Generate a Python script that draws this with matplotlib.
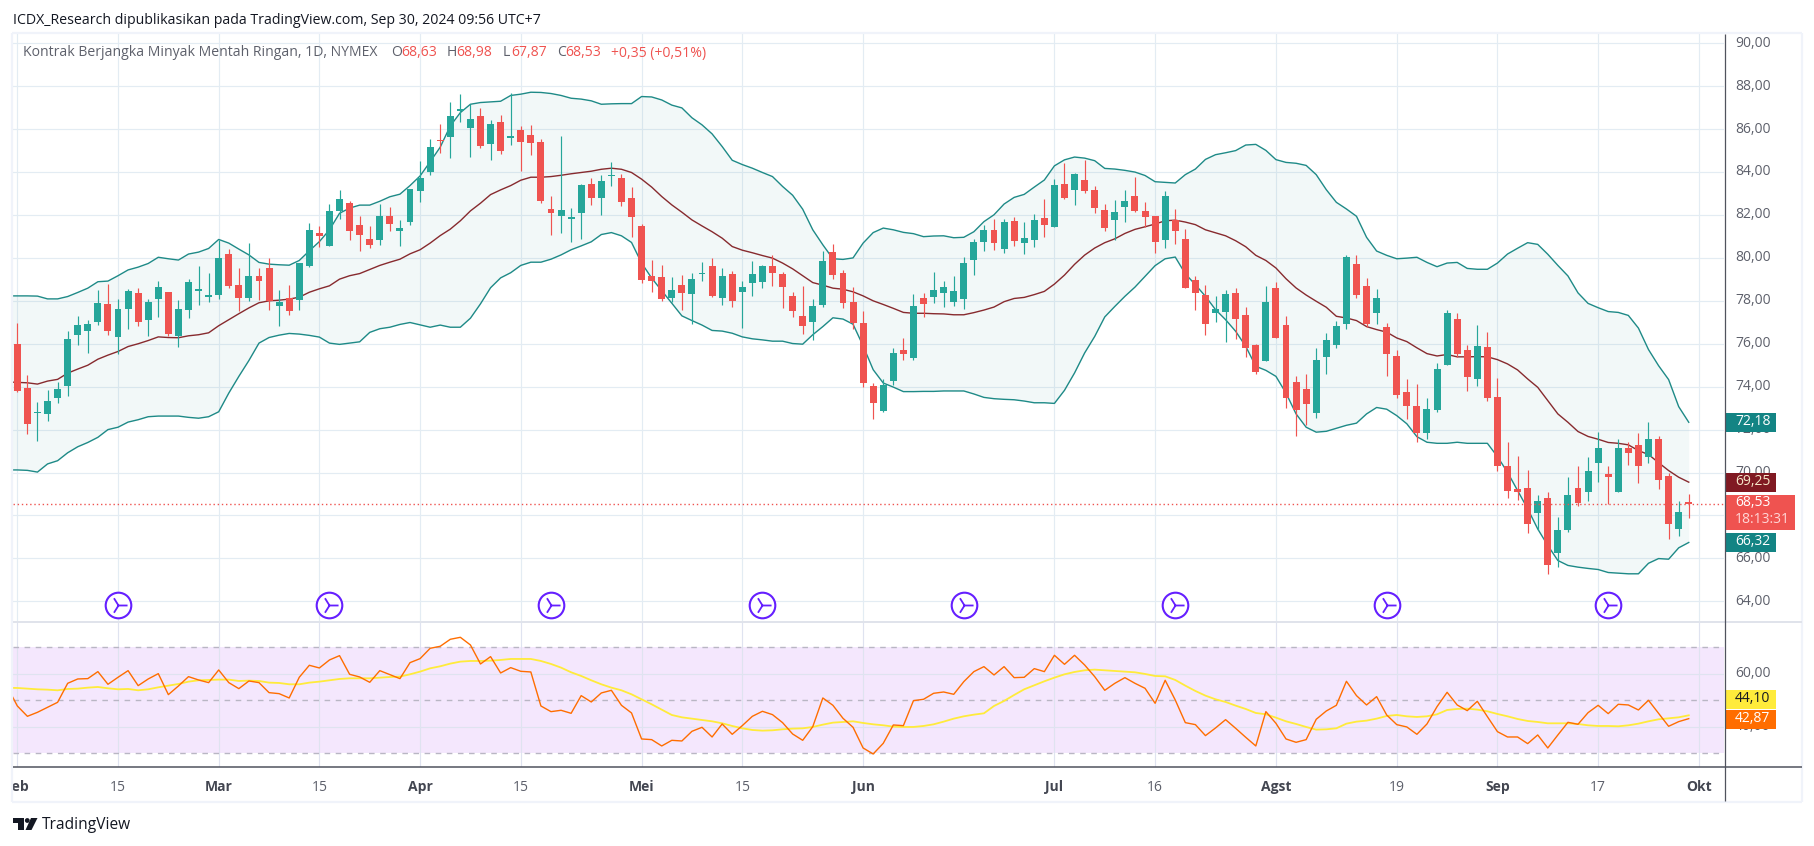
import numpy as np
from matplotlib import pyplot as plt
from matplotlib.patches import Rectangle, Polygon, Circle
from matplotlib.transforms import ScaledTranslation

W, H = 1814, 846

# daily candles, index 0 = 1 Feb 2024
opens = [76.00, 73.95, 72.78, 72.74, 73.48, 74.04, 76.42, 76.60, 77.02, 77.86, 76.32, 77.63, 78.37, 77.12, 78.09, 78.42, 76.37, 77.58, 78.47, 78.19,
         78.28, 80.19, 78.75, 78.14, 79.17, 79.54, 77.77, 78.14, 78.05, 79.63, 81.17, 80.56, 82.19, 82.57, 81.54, 80.89, 80.84, 81.96, 81.26, 81.68,
         83.13, 84.01, 85.50, 85.64, 86.85, 86.06, 86.62, 85.31, 86.34, 85.59, 85.97, 85.73, 85.41, 82.29, 81.96, 81.82, 82.10, 83.45, 82.80, 83.82,
         83.73, 82.80, 81.49, 79.17, 79.12, 78.14, 78.75, 78.33, 79.26, 79.63, 78.14, 79.26, 78.42, 78.84, 78.89, 79.63, 79.26, 78.23, 77.30, 77.02,
         77.81, 80.28, 79.31, 77.95, 76.98, 74.04, 72.88, 74.28, 75.72, 75.35, 78.15, 78.19, 78.38, 77.96, 78.10, 79.92, 80.75, 81.31, 80.43, 81.73,
         80.71, 80.85, 81.87, 81.45, 83.46, 83.18, 83.64, 83.18, 82.24, 81.78, 82.38, 82.90, 82.20, 81.97, 80.85, 81.78, 80.89, 78.98, 78.29, 77.45,
         77.49, 78.38, 77.35, 75.96, 75.21, 78.61, 76.89, 74.23, 73.91, 72.79, 75.40, 75.96, 76.94, 79.73, 78.71, 77.45, 76.80, 75.45, 73.73, 73.12,
         71.86, 72.89, 75.03, 77.17, 75.73, 74.38, 75.87, 73.54, 70.28, 69.25, 69.30, 68.09, 68.79, 66.23, 67.34, 69.30, 69.11, 70.46, 69.95, 69.11,
         71.16, 71.30, 70.70, 71.54, 69.86, 67.39, 68.63]
closes = [73.81, 72.27, 72.81, 73.34, 73.90, 76.23, 76.88, 76.93, 77.91, 76.60, 77.63, 78.47, 77.02, 77.95, 78.65, 76.46, 77.63, 78.89, 78.56, 78.28,
          80.00, 78.70, 78.14, 79.17, 78.93, 78.00, 77.95, 77.53, 79.77, 81.31, 81.03, 82.19, 82.75, 81.26, 81.08, 80.61, 81.96, 81.59, 81.40, 83.22,
          83.73, 85.17, 85.45, 86.62, 86.94, 86.48, 85.22, 86.25, 84.99, 85.69, 85.41, 85.36, 82.66, 82.10, 82.24, 81.91, 83.40, 82.80, 83.59, 83.87,
          82.61, 81.91, 78.98, 78.93, 78.09, 78.51, 78.37, 79.03, 79.31, 78.23, 79.17, 78.00, 78.65, 79.26, 79.63, 79.31, 78.65, 77.53, 76.84, 77.77,
          79.86, 79.21, 77.91, 76.98, 74.18, 73.25, 74.09, 75.58, 75.54, 77.77, 77.87, 78.52, 78.66, 78.47, 79.78, 80.75, 81.31, 80.71, 81.69, 80.80,
          80.94, 81.78, 81.55, 83.41, 82.80, 83.92, 83.13, 82.34, 81.41, 82.15, 82.66, 82.20, 81.92, 80.75, 82.90, 81.27, 78.61, 78.38, 76.93, 77.63,
          78.33, 77.17, 75.82, 74.70, 77.96, 76.28, 73.49, 72.93, 73.21, 75.22, 76.19, 76.85, 80.06, 78.29, 76.94, 78.15, 75.50, 73.59, 73.12, 71.86,
          72.98, 74.84, 77.41, 75.50, 74.47, 75.91, 73.49, 70.28, 69.16, 69.11, 67.62, 68.69, 65.71, 67.30, 68.97, 68.60, 70.09, 71.16, 69.81, 71.16,
          70.93, 70.32, 71.54, 69.63, 67.62, 68.18, 68.53]
highs = [76.96, 74.55, 73.30, 73.85, 74.23, 76.60, 77.30, 77.12, 78.51, 78.79, 78.09, 78.56, 78.61, 78.09, 78.93, 78.42, 78.05, 79.03, 79.63, 79.31,
         80.84, 80.42, 79.54, 80.70, 79.54, 80.00, 78.51, 78.75, 79.77, 81.63, 81.49, 82.52, 83.17, 82.66, 81.96, 81.49, 82.52, 82.38, 81.77, 83.22,
         84.52, 85.55, 86.25, 87.27, 87.64, 87.18, 86.99, 86.43, 86.67, 87.69, 86.15, 86.20, 85.55, 82.89, 85.69, 82.33, 83.45, 83.73, 83.87, 84.48,
         83.92, 83.31, 81.59, 79.91, 79.68, 79.12, 79.21, 79.31, 79.82, 80.00, 79.54, 79.40, 78.93, 79.86, 79.68, 80.14, 79.35, 78.42, 78.70, 78.09,
         80.33, 80.66, 79.44, 78.65, 77.53, 74.18, 74.37, 75.82, 76.28, 78.33, 78.38, 79.36, 78.94, 79.17, 80.06, 80.89, 81.55, 81.83, 81.83, 81.92,
         81.69, 82.06, 82.76, 83.69, 84.43, 83.97, 84.57, 83.36, 82.52, 82.71, 83.18, 83.78, 82.62, 81.97, 83.13, 82.29, 81.36, 79.17, 78.75, 78.24,
         78.52, 78.61, 77.73, 76.00, 78.70, 78.89, 77.31, 74.51, 74.61, 75.82, 76.52, 77.08, 80.15, 80.15, 79.08, 78.57, 76.99, 75.73, 74.38, 74.14,
         73.49, 75.08, 77.59, 77.45, 75.96, 76.89, 76.57, 74.42, 71.44, 70.79, 70.14, 68.97, 69.07, 67.95, 69.81, 70.32, 70.70, 71.91, 70.28, 71.54,
         71.44, 71.82, 72.37, 71.72, 70.00, 68.65, 68.98]
lows = [73.73, 71.81, 71.45, 72.41, 73.25, 73.58, 75.95, 75.58, 76.88, 76.42, 75.53, 76.70, 76.84, 76.37, 77.26, 76.37, 75.86, 77.21, 77.81, 77.95,
        78.09, 78.61, 77.53, 78.00, 78.05, 77.58, 76.84, 77.35, 77.58, 79.58, 80.52, 80.56, 81.82, 80.84, 80.33, 80.47, 80.61, 81.26, 80.56, 81.54,
        82.61, 83.87, 84.90, 84.66, 86.34, 84.71, 85.13, 84.57, 84.85, 85.27, 84.06, 84.80, 82.57, 81.08, 81.17, 80.75, 80.89, 82.47, 82.01, 83.36,
        82.43, 80.98, 78.84, 78.42, 78.00, 77.95, 77.58, 76.93, 78.93, 78.19, 77.81, 77.72, 76.74, 78.23, 78.61, 78.70, 77.67, 77.26, 76.46, 76.18,
        77.72, 79.03, 77.67, 76.70, 73.99, 72.50, 72.84, 74.09, 75.26, 75.26, 77.26, 77.91, 77.73, 77.77, 77.63, 79.22, 80.34, 80.38, 80.24, 80.57,
        80.20, 80.52, 80.99, 81.45, 82.76, 82.48, 83.04, 82.11, 81.27, 80.85, 81.69, 82.15, 81.45, 80.24, 80.47, 80.66, 78.61, 77.59, 76.42, 77.03,
        76.10, 76.24, 75.40, 74.61, 75.21, 76.28, 73.02, 71.72, 72.21, 72.56, 74.61, 75.82, 76.71, 78.15, 76.80, 76.94, 74.52, 73.45, 72.51, 71.44,
        71.58, 72.84, 75.03, 75.40, 73.82, 74.05, 73.35, 70.09, 68.83, 68.74, 67.16, 67.30, 65.25, 65.62, 67.25, 68.46, 68.65, 69.58, 68.55, 69.11,
        70.37, 69.49, 70.42, 69.21, 66.92, 67.06, 67.87]

# indicators carry one extra value in front, the bar before the left edge
bb_upper = [78.23, 78.23, 78.23, 78.22, 78.09, 78.09, 78.20, 78.39, 78.59, 78.89, 78.92, 79.17, 79.44, 79.57, 79.74, 80.03, 79.96, 79.90, 80.18, 80.27, 80.44,
            80.86, 80.69, 80.41, 80.14, 79.79, 79.71, 79.68, 79.66, 79.88, 80.33, 80.76, 81.31, 82.08, 82.32, 82.46, 82.46, 82.64, 82.85, 82.97, 83.37,
            83.82, 84.48, 85.16, 86.15, 86.77, 87.16, 87.24, 87.27, 87.30, 87.57, 87.63, 87.72, 87.71, 87.66, 87.57, 87.44, 87.40, 87.32, 87.16, 87.18,
            87.19, 87.19, 87.52, 87.50, 87.36, 87.12, 86.99, 86.53, 86.20, 85.78, 85.19, 84.55, 84.35, 84.18, 83.98, 83.79, 83.33, 82.92, 82.27, 81.31,
            80.61, 79.96, 79.93, 80.00, 80.69, 81.18, 81.39, 81.31, 81.19, 81.13, 80.99, 81.02, 81.03, 80.94, 80.96, 81.22, 81.69, 82.01, 82.51, 82.82,
            82.96, 83.30, 83.63, 84.29, 84.57, 84.70, 84.65, 84.53, 84.17, 84.14, 84.08, 84.00, 83.84, 83.55, 83.52, 83.49, 83.88, 84.14, 84.59, 84.81,
            84.90, 85.00, 85.26, 85.29, 85.01, 84.58, 84.45, 84.41, 84.31, 83.88, 83.18, 82.59, 82.28, 81.94, 80.96, 80.32, 80.12, 79.96, 79.99, 80.03,
            79.79, 79.59, 79.76, 79.79, 79.51, 79.47, 79.47, 79.76, 80.18, 80.45, 80.71, 80.63, 80.17, 79.65, 79.16, 78.37, 77.88, 77.68, 77.50, 77.46,
            77.32, 76.73, 75.73, 74.98, 74.33, 73.07, 72.34]
bb_basis = [74.22, 74.20, 74.18, 74.12, 74.26, 74.34, 74.63, 74.82, 75.00, 75.28, 75.47, 75.64, 75.87, 76.00, 76.15, 76.32, 76.29, 76.28, 76.37, 76.42, 76.51,
            76.84, 77.12, 77.40, 77.67, 77.91, 78.00, 78.03, 78.08, 78.17, 78.40, 78.56, 78.70, 79.01, 79.17, 79.27, 79.46, 79.65, 79.80, 79.94, 80.19,
            80.38, 80.69, 81.04, 81.34, 81.73, 82.19, 82.55, 82.95, 83.17, 83.37, 83.62, 83.76, 83.76, 83.79, 83.85, 83.92, 83.98, 84.04, 84.13, 84.18,
            84.13, 83.98, 83.67, 83.30, 82.86, 82.47, 82.13, 81.77, 81.49, 81.22, 80.92, 80.53, 80.36, 80.24, 80.11, 79.99, 79.76, 79.49, 79.17, 78.85,
            78.73, 78.59, 78.54, 78.42, 78.23, 78.00, 77.83, 77.65, 77.46, 77.42, 77.42, 77.40, 77.39, 77.35, 77.35, 77.45, 77.57, 77.71, 77.96, 78.11,
            78.16, 78.29, 78.44, 78.78, 79.20, 79.70, 80.13, 80.46, 80.71, 80.89, 81.14, 81.33, 81.45, 81.58, 81.73, 81.76, 81.67, 81.55, 81.31, 81.17,
            81.03, 80.80, 80.52, 80.12, 79.88, 79.53, 79.03, 78.60, 78.27, 77.98, 77.70, 77.28, 77.20, 77.08, 76.80, 76.66, 76.54, 76.27, 76.10, 75.81,
            75.54, 75.43, 75.50, 75.39, 75.39, 75.40, 75.39, 75.26, 75.06, 74.78, 74.36, 73.97, 73.35, 72.73, 72.34, 71.91, 71.68, 71.55, 71.40, 71.36,
            71.29, 71.02, 70.84, 70.46, 70.09, 69.78, 69.55]
bb_lower = [70.12, 70.12, 70.10, 70.02, 70.40, 70.55, 70.92, 71.20, 71.40, 71.64, 72.00, 72.11, 72.35, 72.46, 72.60, 72.63, 72.63, 72.63, 72.57, 72.53, 72.60,
            72.83, 73.70, 74.48, 75.22, 76.03, 76.29, 76.40, 76.48, 76.45, 76.39, 76.31, 76.03, 75.97, 76.03, 76.09, 76.53, 76.70, 76.77, 76.90, 76.99,
            76.88, 76.77, 76.87, 76.77, 76.77, 77.19, 77.86, 78.61, 79.07, 79.31, 79.65, 79.80, 79.80, 79.94, 80.14, 80.38, 80.56, 80.75, 81.09, 81.18,
            81.03, 80.72, 79.76, 79.06, 78.47, 77.89, 77.30, 77.08, 76.87, 76.62, 76.59, 76.49, 76.32, 76.23, 76.18, 76.12, 76.12, 76.01, 75.98, 76.42,
            76.80, 77.21, 77.15, 76.91, 75.90, 74.79, 74.17, 73.98, 73.77, 73.77, 73.78, 73.78, 73.80, 73.80, 73.80, 73.66, 73.50, 73.44, 73.41, 73.39,
            73.33, 73.25, 73.25, 73.22, 73.83, 74.64, 75.57, 76.34, 77.25, 77.74, 78.21, 78.64, 79.14, 79.64, 79.96, 80.04, 79.26, 78.75, 78.21, 77.59,
            77.12, 76.58, 75.88, 74.95, 74.76, 74.48, 73.70, 72.73, 72.11, 71.88, 71.92, 72.06, 72.20, 72.30, 72.73, 73.03, 72.95, 72.65, 72.27, 71.67,
            71.41, 71.36, 71.36, 71.41, 71.36, 71.36, 71.36, 70.74, 70.01, 69.16, 68.31, 67.37, 66.60, 65.90, 65.67, 65.59, 65.53, 65.48, 65.34, 65.31,
            65.28, 65.28, 65.77, 65.99, 65.96, 66.49, 66.74]

rsi = [55.10, 47.86, 43.96, 45.47, 47.36, 49.24, 56.41, 58.05, 58.18, 60.82, 56.04, 58.68, 61.19, 55.53, 58.05, 60.06, 52.14, 55.41, 58.93, 57.67, 56.67,
       61.45, 56.67, 54.40, 57.29, 56.67, 52.89, 52.51, 50.88, 58.68, 63.21, 62.20, 65.22, 66.85, 59.81, 58.80, 56.79, 61.19, 59.68, 58.18, 64.21,
       65.72, 69.62, 70.38, 73.02, 73.77, 70.88, 63.71, 66.48, 60.31, 62.33, 60.94, 60.69, 47.86, 45.72, 46.23, 45.09, 51.76, 49.37, 52.77, 53.77,
       48.11, 45.22, 35.41, 35.16, 32.77, 34.90, 34.65, 38.30, 39.81, 36.16, 41.07, 37.17, 40.44, 43.96, 45.85, 44.59, 41.57, 37.29, 34.90, 40.06,
       50.88, 48.11, 43.21, 39.81, 32.01, 29.75, 33.77, 40.69, 40.44, 49.87, 50.38, 52.64, 53.14, 52.26, 57.04, 60.82, 62.70, 59.56, 62.70, 58.55,
       58.68, 61.95, 60.82, 66.98, 63.58, 66.98, 63.33, 58.93, 53.77, 56.41, 58.55, 56.41, 54.53, 48.87, 57.55, 50.12, 41.57, 40.82, 36.67, 39.56,
       42.70, 39.43, 36.04, 32.77, 45.72, 41.32, 35.41, 34.15, 35.16, 42.83, 45.97, 48.11, 57.17, 51.76, 48.24, 51.38, 44.46, 40.82, 39.94, 37.17,
       41.07, 47.61, 53.02, 48.24, 46.10, 49.62, 43.83, 38.17, 36.16, 36.16, 33.65, 36.92, 32.01, 36.92, 41.70, 40.94, 45.34, 48.11, 44.97, 48.49,
       48.24, 46.35, 50.00, 45.09, 40.19, 41.95, 43.08]
rsi_ma = [54.70, 54.65, 54.40, 54.15, 54.02, 53.77, 54.28, 54.40, 54.78, 55.03, 54.53, 54.15, 54.28, 53.77, 54.15, 54.90, 55.53, 56.16, 57.04, 57.55, 57.67,
          57.80, 57.80, 57.29, 57.42, 57.29, 56.67, 56.54, 56.04, 56.04, 56.67, 57.04, 57.55, 58.05, 58.30, 58.30, 58.30, 58.55, 58.80, 58.93, 59.81,
          60.82, 62.07, 62.83, 63.84, 64.59, 64.84, 64.84, 64.97, 65.22, 65.60, 65.60, 65.60, 64.84, 63.71, 62.33, 60.57, 59.18, 57.55, 56.04, 54.78,
          53.77, 52.26, 50.38, 48.49, 46.48, 44.46, 43.58, 43.08, 42.58, 42.07, 41.32, 40.31, 39.43, 38.80, 38.55, 38.68, 39.06, 39.31, 39.43, 39.94,
          40.82, 41.57, 41.82, 42.07, 41.45, 40.94, 40.57, 40.06, 39.94, 39.94, 40.31, 40.94, 41.95, 43.08, 43.96, 44.59, 45.09, 47.86, 49.75, 52.01,
          54.15, 55.66, 57.17, 58.55, 59.81, 60.69, 61.32, 61.57, 61.32, 61.07, 60.82, 60.56, 59.94, 59.18, 59.05, 57.67, 55.53, 53.52, 51.76, 50.38,
          49.37, 47.99, 46.73, 45.22, 44.72, 43.46, 42.07, 41.07, 39.94, 38.93, 39.05, 39.43, 41.19, 41.95, 42.33, 43.08, 44.09, 44.46, 43.96, 43.71,
          43.96, 44.72, 46.35, 46.73, 46.85, 46.48, 45.85, 44.84, 43.96, 42.95, 42.20, 41.82, 41.32, 41.32, 41.32, 41.07, 40.56, 40.31, 40.31, 40.19,
          40.56, 41.19, 42.07, 42.83, 43.21, 43.58, 44.34]

# bars that carry the purple event icon
event_bars = [10, 31, 53, 74, 94, 115, 136, 158]
event_price = 63.83

date_ticks = [0, 10, 20, 30, 40, 50, 62, 72, 84, 103, 113, 125, 137, 147, 157, 167]
date_labels = ['Feb', '15', 'Mar', '15', 'Apr', '15', 'Mei', '15', 'Jun', 'Jul', '16', 'Agst', '19', 'Sep', '17', 'Okt']
month_labels = ['Feb', 'Mar', 'Apr', 'Mei', 'Jun', 'Jul', 'Agst', 'Sep', 'Okt']
price_ticks = list(range(64, 92, 2))
rsi_ticks = [40, 60]
last_close = 68.53

UP, DOWN = '#26a69a', '#ef5350'
BAND, BASIS = '#1e8a87', '#872a2e'
GRID = '#e3ecf3'
TEXT, MUTED = '#131722', '#5d606b'
FONT = 'Open Sans'

plt.rcParams['font.family'] = [FONT, 'DejaVu Sans']


def px_axes(fig, left, top, right, bottom):
    return fig.add_axes([left / W, 1 - bottom / H, (right - left) / W, (bottom - top) / H])


def fmt(value):
    return f'{value:.2f}'.replace('.', ',')


fig = plt.figure(figsize=(W / 100, H / 100), dpi=100, facecolor='white')
ax = px_axes(fig, 13, 33.5, 1724, 622.3)
ax_rsi = px_axes(fig, 13, 622.3, 1724, 767.3)

bars = np.arange(len(closes))
line_x = np.arange(len(bb_upper)) - 1
o, c, h, l = map(np.array, (opens, closes, highs, lows))
colors = [UP if b >= a else DOWN for a, b in zip(o, c)]

ax.fill_between(line_x, bb_lower, bb_upper, color='#138484', alpha=0.05, lw=0, zorder=1)
ax.plot(line_x, bb_upper, color=BAND, lw=1.0, zorder=2)
ax.plot(line_x, bb_lower, color=BAND, lw=1.0, zorder=2)
ax.plot(line_x, bb_basis, color=BASIS, lw=1.0, zorder=2)
ax.vlines(bars, l, h, colors=colors, lw=0.85, zorder=3)
ax.bar(bars, np.maximum(np.abs(c - o), 0.05), bottom=np.minimum(o, c), width=0.69, color=colors, lw=0, zorder=4)
ax.axhline(last_close, color=DOWN, lw=1, dashes=(1, 2), zorder=5)

ax.scatter(event_bars, [event_price] * len(event_bars), s=340, facecolor='white', edgecolor='#651fff', lw=1.5, zorder=6)
ax.scatter(event_bars, [event_price] * len(event_bars), s=170, marker='4', color='#651fff', lw=1.3, zorder=7)

ax.set_xlim(-0.43, 169.5)
ax.set_ylim(63.02, 90.457)
ax.set_yticks(price_ticks)
ax.set_yticklabels([fmt(v) for v in price_ticks])
ax.set_xticks(date_ticks)
ax.tick_params(axis='x', length=0, labelbottom=False)
ax.yaxis.tick_right()
ax.tick_params(axis='y', length=0, pad=8, labelsize=10, labelcolor=MUTED)
ax.grid(True, color=GRID, lw=0.85)
ax.set_axisbelow(True)
for s in ax.spines.values():
    s.set_visible(False)

ax_rsi.axhspan(30, 70, color='#f4e7fd', lw=0, zorder=0)
for level in (30, 50, 70):
    ax_rsi.axhline(level, color='#b9b6c4', lw=1, dashes=(4, 4), zorder=1)
ax_rsi.plot(line_x, rsi_ma, color='#ffeb3b', lw=1.3, zorder=2)
ax_rsi.plot(line_x, rsi, color='#ff6d00', lw=1.0, zorder=3)
ax_rsi.set_xlim(ax.get_xlim())
ax_rsi.set_ylim(24.72, 79.43)
ax_rsi.set_yticks(rsi_ticks)
ax_rsi.set_yticklabels([fmt(v) for v in rsi_ticks])
ax_rsi.yaxis.tick_right()
ax_rsi.tick_params(axis='y', length=0, pad=8, labelsize=10, labelcolor=MUTED)
ax_rsi.set_xticks(date_ticks)
ax_rsi.set_xticklabels(date_labels)
ax_rsi.tick_params(axis='x', length=0, pad=9, labelsize=10)
for lab in ax_rsi.get_xticklabels():
    if lab.get_text() in month_labels:
        lab.set_fontweight('bold')
        lab.set_color('#434651')
    else:
        lab.set_color(MUTED)
ax_rsi.grid(True, color='#dfe3f0', lw=0.85)
ax_rsi.set_axisbelow(True)
for s in ax_rsi.spines.values():
    s.set_visible(False)

# the axis numbers sit a little above their grid line
lift = ScaledTranslation(0, 1.5 / 72, fig.dpi_scale_trans)
for lab in ax.get_yticklabels() + ax_rsi.get_yticklabels():
    lab.set_transform(lab.get_transform() + lift)

# frame, price tags, header and logo sit on a full figure layer in pixels
top = fig.add_axes([0, 0, 1, 1], zorder=10)
top.set_xlim(0, W)
top.set_ylim(H, 0)
top.axis('off')
top.patch.set_alpha(0)

top.add_patch(Rectangle((0, 34), 12.5, 768, color='white', lw=0))
for x0, y0, x1, y1, col, lw in [(12, 33, 1802, 33, '#f0f3fa', 1.6), (12, 802, 1802, 802, '#f0f3fa', 1.6),
                                (12, 33, 12, 802, '#f0f3fa', 1.6), (1802, 33, 1802, 802, '#f0f3fa', 1.6),
                                (13, 622.3, 1802, 622.3, '#e0e3eb', 1.4), (13, 767.3, 1802, 767.3, '#50535e', 1.1),
                                (1724.5, 34, 1724.5, 801, '#50535e', 0.9)]:
    top.plot([x0, x1], [y0, y1], color=col, lw=lw, solid_capstyle='butt')

tags = [(413.3, 431.7, 1776, '#138484', 'white', '72,18'), (473, 491.7, 1776, '#801922', '#f5e6c8', '69,25'),
        (533, 551.7, 1776, '#138484', 'white', '66,32'), (690, 709, 1776, '#ffeb3b', TEXT, '44,10'),
        (710, 729, 1776, '#ff6d00', 'white', '42,87')]
for y0, y1, x1, bg, fg, txt in tags:
    top.add_patch(Rectangle((1725, y0), x1 - 1725, y1 - y0, color=bg, lw=0))
    top.text(1735, (y0 + y1) / 2 - 1, txt, color=fg, fontsize=10, va='center', ha='left')
top.add_patch(Rectangle((1725, 495), 70, 35, color=DOWN, lw=0))
top.text(1735, 503, fmt(last_close), color='white', fontsize=10, va='center', ha='left')
top.text(1735, 519.5, '18:13:31', color='#ffd6d6', fontsize=10, va='center', ha='left')

top.text(13, 20, 'ICDX_Research dipublikasikan pada TradingView.com, Sep 30, 2024 09:56 UTC+7',
         color=TEXT, fontsize=10.2, va='center', ha='left')
top.text(23, 53, 'Kontrak Berjangka Minyak Mentah Ringan, 1D, NYMEX', color=MUTED, fontsize=10.1, va='center', ha='left')
for xpos, txt, col in [(391, 'O', MUTED), (401, '68,63', DOWN), (447, 'H', MUTED), (456, '68,98', DOWN),
                       (503, 'L', MUTED), (511, '67,87', DOWN), (557, 'C', MUTED), (565, '68,53', DOWN),
                       (611, '+0,35 (+0,51%)', DOWN)]:
    top.text(xpos, 53, txt, color=col, fontsize=10.1, va='center', ha='left')

# logo
top.add_patch(Polygon([(13, 818), (24, 818), (24, 830), (18, 830), (18, 823), (13, 823)], color=TEXT, lw=0))
top.add_patch(Circle((27.3, 820.5), 2.4, color=TEXT, lw=0))
top.add_patch(Polygon([(31, 818), (37.5, 818), (31.5, 830), (25.5, 830)], color=TEXT, lw=0))
top.text(42, 825, 'TradingView', color=TEXT, fontsize=11.2, va='center', ha='left')

fig.savefig('out.png', dpi=100)
